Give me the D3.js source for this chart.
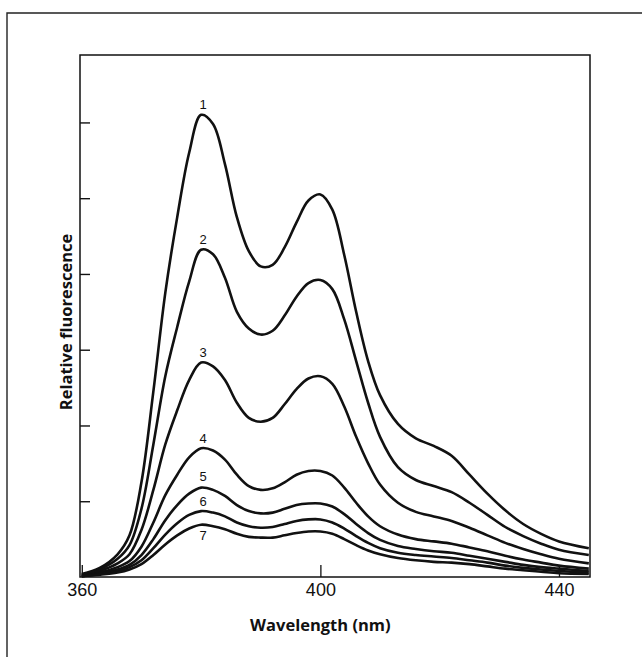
<!DOCTYPE html>
<html>
<head>
<meta charset="utf-8">
<script src="https://cdn.jsdelivr.net/npm/d3@7"></script>
<style>
  html, body { margin: 0; padding: 0; background: #fff; }
  svg { display: block; }
</style>
</head>
<body>
<svg id="chart" width="642" height="657"></svg>
<script>
// ---- data ----
const wavelengths = [360, 363, 366, 368, 370, 372, 374, 376, 378, 380, 382, 384, 386, 388, 390, 392, 394, 396, 398, 400, 402, 404, 406, 408, 410, 413, 416, 419, 422, 425, 428, 431, 434, 437, 440, 445];
const series1 = [0.04, 0.12, 0.30, 0.55, 1.25, 2.45, 3.75, 4.75, 5.6, 6.1, 5.98, 5.45, 4.75, 4.3, 4.1, 4.12, 4.35, 4.68, 4.97, 5.05, 4.85, 4.25, 3.5, 2.85, 2.4, 2.02, 1.83, 1.73, 1.6, 1.35, 1.1, 0.88, 0.7, 0.57, 0.47, 0.38];
const series2 = [0.03, 0.10, 0.24, 0.42, 0.9, 1.75, 2.65, 3.3, 3.9, 4.32, 4.26, 3.95, 3.5, 3.28, 3.2, 3.25, 3.45, 3.7, 3.88, 3.92, 3.8, 3.4, 2.85, 2.3, 1.85, 1.45, 1.28, 1.2, 1.12, 0.98, 0.82, 0.66, 0.54, 0.44, 0.36, 0.29];
const series3 = [0.02, 0.08, 0.18, 0.3, 0.62, 1.15, 1.75, 2.2, 2.6, 2.83, 2.78, 2.6, 2.3, 2.1, 2.05, 2.1, 2.28, 2.48, 2.62, 2.65, 2.55, 2.25, 1.85, 1.5, 1.22, 0.98, 0.86, 0.8, 0.74, 0.65, 0.55, 0.45, 0.37, 0.3, 0.24, 0.18];
const series4 = [0.02, 0.06, 0.13, 0.21, 0.4, 0.72, 1.08, 1.35, 1.58, 1.70, 1.67, 1.55, 1.35, 1.2, 1.15, 1.17, 1.25, 1.35, 1.4, 1.4, 1.34, 1.18, 0.98, 0.8, 0.67, 0.56, 0.5, 0.47, 0.44, 0.39, 0.34, 0.28, 0.23, 0.19, 0.15, 0.11];
const series5 = [0.01, 0.05, 0.1, 0.16, 0.29, 0.5, 0.75, 0.95, 1.1, 1.18, 1.15, 1.07, 0.95, 0.87, 0.84, 0.85, 0.9, 0.95, 0.97, 0.97, 0.93, 0.83, 0.7, 0.58, 0.49, 0.41, 0.37, 0.34, 0.32, 0.28, 0.24, 0.2, 0.16, 0.13, 0.11, 0.08];
const series6 = [0.01, 0.04, 0.08, 0.13, 0.22, 0.38, 0.56, 0.71, 0.82, 0.87, 0.85, 0.8, 0.72, 0.67, 0.65, 0.66, 0.7, 0.74, 0.76, 0.76, 0.72, 0.64, 0.54, 0.45, 0.38, 0.32, 0.29, 0.27, 0.25, 0.22, 0.19, 0.15, 0.12, 0.1, 0.08, 0.06];
const series7 = [0.01, 0.03, 0.06, 0.1, 0.17, 0.29, 0.43, 0.55, 0.64, 0.69, 0.67, 0.63, 0.57, 0.53, 0.52, 0.52, 0.55, 0.58, 0.6, 0.6, 0.57, 0.5, 0.42, 0.35, 0.3, 0.25, 0.22, 0.2, 0.19, 0.17, 0.14, 0.11, 0.09, 0.07, 0.05, 0.04];
const seriesNames = ["1", "2", "3", "4", "5", "6", "7"];
const xTicks = [360, 400, 440];
const yTicks = [1, 2, 3, 4, 5, 6];
const xTitle = "Wavelength (nm)";
const yTitle = "Relative fluorescence";

const allSeries = [series1, series2, series3, series4, series5, series6, series7];

// ---- layout ----
const box = { left: 80, right: 590, top: 55, bottom: 577 };
const svg = d3.select("#chart");

const x = d3.scaleLinear().domain([359.7, 445.2]).range([box.left, box.right]);
const y = d3.scaleLinear().domain([0, 6.89]).range([box.bottom, box.top]);

// outer frame (extends off the page right and bottom)
svg.append("path")
  .attr("d", "M7,657 L7,13 L642,13")
  .attr("fill", "none").attr("stroke", "#222").attr("stroke-width", 1.4);

// plot box
svg.append("rect")
  .attr("x", box.left).attr("y", box.top)
  .attr("width", box.right - box.left).attr("height", box.bottom - box.top)
  .attr("fill", "none").attr("stroke", "#111").attr("stroke-width", 1.5);

// y axis (inward ticks, no labels)
const yAxis = svg.append("g")
  .attr("transform", `translate(${box.left},0)`)
  .call(d3.axisLeft(y).tickValues(yTicks).tickSizeInner(-10).tickSizeOuter(0).tickFormat(""));
yAxis.select(".domain").remove();
yAxis.selectAll(".tick line").attr("stroke", "#111").attr("stroke-width", 1.4);

// x axis (inward ticks, labels below)
const xAxis = svg.append("g")
  .attr("transform", `translate(0,${box.bottom})`)
  .call(d3.axisBottom(x).tickValues(xTicks).tickSizeInner(-12).tickSizeOuter(0).tickPadding(6).tickFormat(d3.format("d")));
xAxis.select(".domain").remove();
xAxis.selectAll(".tick line").attr("stroke", "#111").attr("stroke-width", 1.3);
xAxis.selectAll(".tick text")
  .attr("fill", "#111")
  .style("font-family", "'Liberation Sans', Arial, sans-serif")
  .style("font-size", "18px");

// curves
const line = d3.line()
  .x((d, i) => x(wavelengths[i]))
  .y(d => y(d))
  .curve(d3.curveCatmullRom.alpha(0.5));

svg.append("g").selectAll("path")
  .data(allSeries)
  .join("path")
  .attr("d", d => line(d))
  .attr("fill", "none")
  .attr("stroke", "#111")
  .attr("stroke-width", 2.6)
  .attr("stroke-linejoin", "round");

// curve number labels at first peak
const labelOffsets = [-6, -6, -6, -5, -7, -5, 15];
svg.append("g").selectAll("text")
  .data(allSeries)
  .join("text")
  .attr("x", (d, i) => x(wavelengths[d.indexOf(d3.max(d))]) + 2)
  .attr("y", (d, i) => y(d3.max(d)) + labelOffsets[i])
  .attr("text-anchor", "middle")
  .attr("fill", "#111")
  .style("font-family", "'Liberation Sans', Arial, sans-serif")
  .style("font-size", "13px")
  .text((d, i) => seriesNames[i]);

// axis titles
svg.append("text")
  .attr("x", x(400))
  .attr("y", 631)
  .attr("text-anchor", "middle")
  .attr("fill", "#111")
  .style("font-family", "'Open Sans', 'DejaVu Sans', sans-serif")
  .style("font-weight", "700")
  .style("font-size", "16.5px")
  .text(xTitle);

svg.append("text")
  .attr("transform", `translate(72,${(box.top + box.bottom) / 2 + 6}) rotate(-90)`)
  .attr("text-anchor", "middle")
  .attr("fill", "#111")
  .style("font-family", "'Open Sans', 'DejaVu Sans', sans-serif")
  .style("font-weight", "700")
  .style("font-size", "16.5px")
  .text(yTitle);
</script>
</body>
</html>
